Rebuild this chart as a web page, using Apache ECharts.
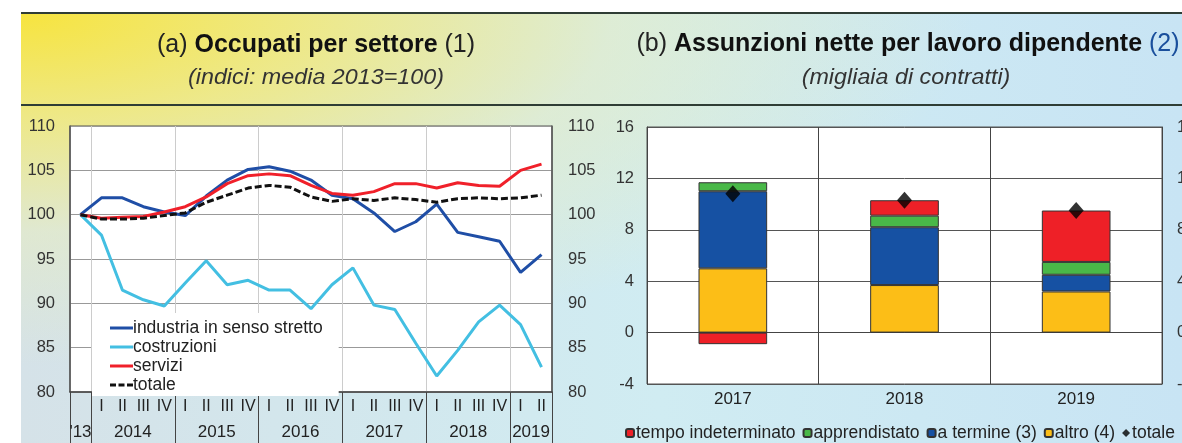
<!DOCTYPE html>
<html>
<head>
<meta charset="utf-8">
<script src="https://cdn.jsdelivr.net/npm/echarts@6/dist/echarts.min.js"></script>
<style>
    html, body { margin: 0; padding: 0; background: #fff; }
    #wrap { position: relative; width: 1182px; height: 443px; overflow: hidden; background: #fff; }
    #panel {
        position: absolute; left: 21px; top: 12px; right: 0; bottom: 0;
        background:
            radial-gradient(ellipse at 0% 0%, rgba(247,228,62,1) 0%, rgba(240,233,128,0.9) 18%, rgba(232,237,190,0.55) 36%, rgba(222,236,225,0) 58%),
            linear-gradient(90deg, #d5e2e8 0%, #d0ecf2 55%, #c8e4f4 100%);
    }
    .rule { position: absolute; left: 21px; right: 0; height: 2px; background: #2f3d35; }
    #chart { position: absolute; left: 0; top: 0; width: 1182px; height: 443px; }
</style>
</head>
<body>
<div id="wrap">
    <div id="panel"></div>
    <div class="rule" style="top:12px"></div>
    <div class="rule" style="top:104px"></div>
    <div id="chart"></div>
</div>
<script>
// (a) occupati per settore, indici 2013=100
var quarterLabels = ['', 'I', 'II', 'III', 'IV', 'I', 'II', 'III', 'IV', 'I', 'II', 'III', 'IV',
    'I', 'II', 'III', 'IV', 'I', 'II', 'III', 'IV', 'I', 'II'];
var yearLabels = ["'13", '2014', '2015', '2016', '2017', '2018', '2019'];
var yearLengths = [1, 4, 4, 4, 4, 4, 2];

var industria = [100, 101.9, 101.9, 100.9, 100.3, 99.9, 102.1, 103.9, 105.1, 105.4, 104.9, 103.9,
    102.2, 101.8, 100.2, 98.1, 99.2, 101.2, 98.0, 97.5, 97.0, 93.5, 95.5];
var costruzioni = [100, 97.7, 91.5, 90.4, 89.7, 92.3, 94.8, 92.1, 92.6, 91.5, 91.5, 89.4,
    92.1, 94.0, 89.8, 89.3, 85.5, 81.8, 84.7, 87.9, 89.8, 87.6, 82.8];
var servizi = [100, 99.6, 99.7, 99.8, 100.3, 100.9, 102.0, 103.5, 104.4, 104.6, 104.4, 103.3,
    102.4, 102.2, 102.6, 103.5, 103.5, 103.0, 103.6, 103.3, 103.2, 105.0, 105.7];
var totaleOccupati = [100, 99.5, 99.5, 99.6, 99.9, 100.2, 101.4, 102.2, 103.0, 103.3, 103.1, 102.0,
    101.5, 101.8, 101.6, 101.9, 101.7, 101.4, 101.8, 101.9, 101.8, 101.9, 102.2];

// (b) assunzioni nette, migliaia di contratti
var anni = ['2017', '2018', '2019'];
var tempoIndeterminato = [-0.9, 1.2, 4.0];
var apprendistato = [0.7, 0.9, 1.0];
var aTermine = [6.0, 4.5, 1.3];
var altro = [5.0, 3.7, 3.2];
var totaleAssunzioni = [10.8, 10.3, 9.5];

// year axis: half-quarter points, labels in the middle of each year, ticks at the boundaries
var yearAxis = [];
var yearBounds = {};
var pos = 0;
for (var i = 0; i <= quarterLabels.length * 2; i++) yearAxis.push('');
yearBounds[0] = true;
yearLabels.forEach(function (y, k) {
    yearAxis[pos * 2 + yearLengths[k]] = y;
    pos += yearLengths[k];
    yearBounds[pos * 2] = true;
});
var lastPoint = quarterLabels.length * 2;

var font = 'Liberation Sans, Arial, sans-serif';
var lineIcon = 'path://M0,0H23V3H0Z';
var dashIcon = 'path://M0,0H6V3H0ZM8.5,0H14.5V3H8.5ZM17,0H23V3H17Z';
var chart = echarts.init(document.getElementById('chart'));

var option = {
    animation: false,
    textStyle: { fontFamily: font },
    graphic: [
        {
            type: 'text', x: 316, y: 45,
            style: {
                text: '{n|(a) }{b|Occupati per settore}{n| (1)}',
                align: 'center', verticalAlign: 'middle',
                rich: {
                    n: { fontSize: 25, fontFamily: font, fill: '#222' },
                    b: { fontSize: 25, fontFamily: font, fontWeight: 'bold', fill: '#111' }
                }
            }
        },
        {
            type: 'text', x: 316, y: 78, scaleX: 1.06,
            style: {
                text: '(indici: media 2013=100)', align: 'center', verticalAlign: 'middle',
                fontSize: 22, fontStyle: 'italic', fontFamily: font, fill: '#333'
            }
        },
        {
            type: 'text', x: 908, y: 44,
            style: {
                text: '{n|(b) }{b|Assunzioni nette per lavoro dipendente}{c| (2)}',
                align: 'center', verticalAlign: 'middle',
                rich: {
                    n: { fontSize: 25, fontFamily: font, fill: '#222' },
                    b: { fontSize: 25, fontFamily: font, fontWeight: 'bold', fill: '#111' },
                    c: { fontSize: 25, fontFamily: font, fill: '#1a4f9c' }
                }
            }
        },
        {
            type: 'text', x: 906, y: 78, scaleX: 1.06,
            style: {
                text: '(migliaia di contratti)', align: 'center', verticalAlign: 'middle',
                fontSize: 22, fontStyle: 'italic', fontFamily: font, fill: '#333'
            }
        }
    ],
    grid: [
        {
            left: 70, top: 126, width: 482, height: 266, outerBoundsMode: 'none',
            show: true, backgroundColor: '#fff', borderColor: '#555', borderWidth: 1
        },
        {
            left: 647, top: 127, width: 515, height: 257, outerBoundsMode: 'none',
            show: true, backgroundColor: '#fff', borderColor: '#555', borderWidth: 1
        }
    ],
    legend: [
        {
            data: [
                { name: 'industria in senso stretto', icon: lineIcon },
                { name: 'costruzioni', icon: lineIcon },
                { name: 'servizi', icon: lineIcon },
                { name: 'totale', icon: dashIcon }
            ],
            orient: 'vertical', left: 92, top: 313,
            padding: [6, 16, 2, 18], itemGap: 1, itemWidth: 23, itemHeight: 3,
            backgroundColor: '#fff',
            textStyle: { fontSize: 17.5, color: '#222', padding: [0, 0, 0, -5] }
        },
        {
            data: ['tempo indeterminato', 'apprendistato', 'a termine (3)', 'altro (4)', { name: 'totale ', icon: 'diamond' }],
            orient: 'horizontal', left: 620, top: 419, width: 700,
            itemGap: 7, itemWidth: 8, itemHeight: 8,
            textStyle: { fontSize: 17.5, color: '#222', padding: [0, 0, 0, -3] }
        }
    ],
    xAxis: [
        {
            type: 'category', gridIndex: 0, data: quarterLabels, boundaryGap: true,
            axisLine: { lineStyle: { color: '#444', width: 1.5 } },
            axisTick: { interval: 0, length: 16, lineStyle: { color: '#444' } },
            axisLabel: { interval: 0, margin: 7, fontSize: 16, color: '#222' },
            splitLine: { show: false }
        },
        {
            type: 'category', gridIndex: 0, data: yearAxis, boundaryGap: false, position: 'bottom',
            axisLine: { show: false },
            axisTick: {
                length: 52, lineStyle: { color: '#444' },
                interval: function (idx) { return !!yearBounds[idx]; }
            },
            axisLabel: { interval: 0, margin: 32, fontSize: 17, color: '#222' },
            splitLine: {
                show: true, lineStyle: { color: '#ccc' },
                interval: function (idx) { return !!yearBounds[idx] && idx > 0 && idx < lastPoint; }
            }
        },
        {
            type: 'category', gridIndex: 1, data: anni,
            axisLine: { lineStyle: { color: '#444' } },
            axisTick: { show: false },
            axisLabel: { margin: 7, fontSize: 17, color: '#222' },
            splitLine: { show: true, lineStyle: { color: '#444' } }
        }
    ],
    yAxis: [
        {
            type: 'value', gridIndex: 0, min: 80, max: 110, interval: 5, position: 'left',
            axisLine: { show: true, lineStyle: { color: '#555', width: 1.5 } },
            axisTick: { show: false },
            axisLabel: { margin: 15, fontSize: 16.5, color: '#333' },
            splitLine: { lineStyle: { color: '#999' } }
        },
        {
            type: 'value', gridIndex: 0, min: 80, max: 110, interval: 5, position: 'right',
            axisLine: { show: true, lineStyle: { color: '#555', width: 1.5 } },
            axisTick: { show: false },
            axisLabel: { margin: 16, fontSize: 16.5, color: '#333' },
            splitLine: { show: false }
        },
        {
            type: 'value', gridIndex: 1, min: -4, max: 16, interval: 4, position: 'left',
            axisLine: { show: true, lineStyle: { color: '#444' } },
            axisTick: { show: false },
            axisLabel: { margin: 13, fontSize: 16.5, color: '#333' },
            splitLine: { lineStyle: { color: '#555' } }
        },
        {
            type: 'value', gridIndex: 1, min: -4, max: 16, interval: 4, position: 'right',
            axisLine: { show: true, lineStyle: { color: '#444' } },
            axisTick: { show: false },
            axisLabel: { margin: 15, fontSize: 16.5, color: '#333' },
            splitLine: { show: false }
        }
    ],
    series: [
        {
            name: 'industria in senso stretto', type: 'line', xAxisIndex: 0, yAxisIndex: 0,
            data: industria, symbol: 'none', lineStyle: { color: '#1f4ea6', width: 3 }, itemStyle: { color: '#1f4ea6' }
        },
        {
            name: 'costruzioni', type: 'line', xAxisIndex: 0, yAxisIndex: 0,
            data: costruzioni, symbol: 'none', lineStyle: { color: '#43bfe2', width: 3 }, itemStyle: { color: '#43bfe2' }
        },
        {
            name: 'servizi', type: 'line', xAxisIndex: 0, yAxisIndex: 0,
            data: servizi, symbol: 'none', lineStyle: { color: '#f0202a', width: 3 }, itemStyle: { color: '#f0202a' }
        },
        {
            name: 'totale', type: 'line', xAxisIndex: 0, yAxisIndex: 0,
            data: totaleOccupati, symbol: 'none', z: 3,
            lineStyle: { color: '#111', width: 3, type: [7, 3] }, itemStyle: { color: '#111' }
        },
        {
            name: 'altro (4)', type: 'bar', stack: 'b', xAxisIndex: 2, yAxisIndex: 2, barWidth: '40%',
            data: altro, itemStyle: { color: '#fcbe17', borderColor: '#333', borderWidth: 1 }
        },
        {
            name: 'a termine (3)', type: 'bar', stack: 'b', xAxisIndex: 2, yAxisIndex: 2,
            data: aTermine, itemStyle: { color: '#1651a3', borderColor: '#333', borderWidth: 1 }
        },
        {
            name: 'apprendistato', type: 'bar', stack: 'b', xAxisIndex: 2, yAxisIndex: 2,
            data: apprendistato, itemStyle: { color: '#49b848', borderColor: '#333', borderWidth: 1 }
        },
        {
            name: 'tempo indeterminato', type: 'bar', stack: 'b', xAxisIndex: 2, yAxisIndex: 2,
            data: tempoIndeterminato, itemStyle: { color: '#ee2027', borderColor: '#333', borderWidth: 1 }
        },
        {
            name: 'totale ', type: 'scatter', xAxisIndex: 2, yAxisIndex: 2, z: 5,
            data: totaleAssunzioni, symbol: 'diamond', symbolSize: [15, 17],
            itemStyle: { color: '#000' }
        }
    ]
};

chart.setOption(option);
</script>
</body>
</html>
